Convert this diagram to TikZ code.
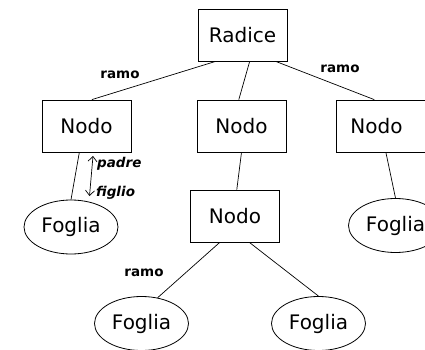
\documentclass[tikz,border=0pt]{standalone}
\usepackage{fontspec}
\setmainfont{DejaVu Sans}
\usetikzlibrary{shapes.geometric,arrows.meta,calc}
\tikzset{
  box/.style={draw, line width=0.8pt, rectangle, minimum width=89pt, minimum height=52pt, inner sep=0pt, font=\fontsize{20}{22}\selectfont},
  leaf/.style={draw, line width=0.8pt, ellipse, minimum width=94pt, minimum height=54pt, inner sep=0pt, font=\fontsize{20}{22}\selectfont},
  edge/.style={line width=0.7pt},
  lbl/.style={font=\bfseries\fontsize{13.5}{14}\selectfont, inner sep=0pt},
  ilbl/.style={font=\bfseries\itshape\fontsize{13.5}{14}\selectfont, inner sep=0pt, anchor=west},
  dbl/.style={line width=0.7pt, {Straight Barb[length=5pt,width=9pt]}-{Straight Barb[length=5pt,width=9pt]}}
}
\begin{document}
\begin{tikzpicture}[x=1pt,y=-1pt]
\useasboundingbox (0,0) rectangle (425,350);
\clip (0,0) rectangle (425,350);
\node[box] (rad) at (242.5,35) {Radice};
\node[box] (nl) at (86.5,126) {Nodo};
\node[box] (nm) at (241.5,126) {Nodo};
\node[box] (nr) at (380.5,126) {Nodo\hspace*{8pt}};
\node[box] (nb) at (235,216) {Nodo};
\node[leaf] (fl) at (71,227) {Foglia};
\node[leaf] (fr) at (395.5,225.5) {Foglia};
\node[leaf] (fbl) at (141.5,323.5) {Foglia};
\node[leaf] (fbr) at (318.5,323.5) {Foglia};
\draw[edge] ($(rad.south west)!0.2!(rad.south east)$) -- ($(nl.north west)!0.56!(nl.north east)$);
\draw[edge] ($(rad.south west)!0.58!(rad.south east)$) -- ($(nm.north west)!0.47!(nm.north east)$);
\draw[edge] ($(rad.south west)!0.87!(rad.south east)$) -- ($(nr.north west)!0.43!(nr.north east)$);
\draw[edge] ($(nl.south west)!0.42!(nl.south east)$) -- (fl.north);
\draw[edge] ($(nm.south west)!0.5!(nm.south east)$) -- ($(nb.north west)!0.52!(nb.north east)$);
\draw[edge] ($(nr.south west)!0.56!(nr.south east)$) -- (fr.north);
\draw[edge] ($(nb.south west)!0.33!(nb.south east)$) -- (fbl.58);
\draw[edge] ($(nb.south west)!0.66!(nb.south east)$) -- (fbr.north);
\coordinate (pa) at (93,156);
\coordinate (fi) at (89.5,196);
\draw[dbl] (pa) -- (fi);
\node[ilbl] (tpadre) at (97,164) {padre};
\node[ilbl] (tfiglio) at (96,193) {figlio};
\node[lbl] (r1) at (120,75) {ramo};
\node[lbl] (r2) at (340,69) {ramo};
\node[lbl] (r3) at (144,273) {ramo};
\end{tikzpicture}
\end{document}
